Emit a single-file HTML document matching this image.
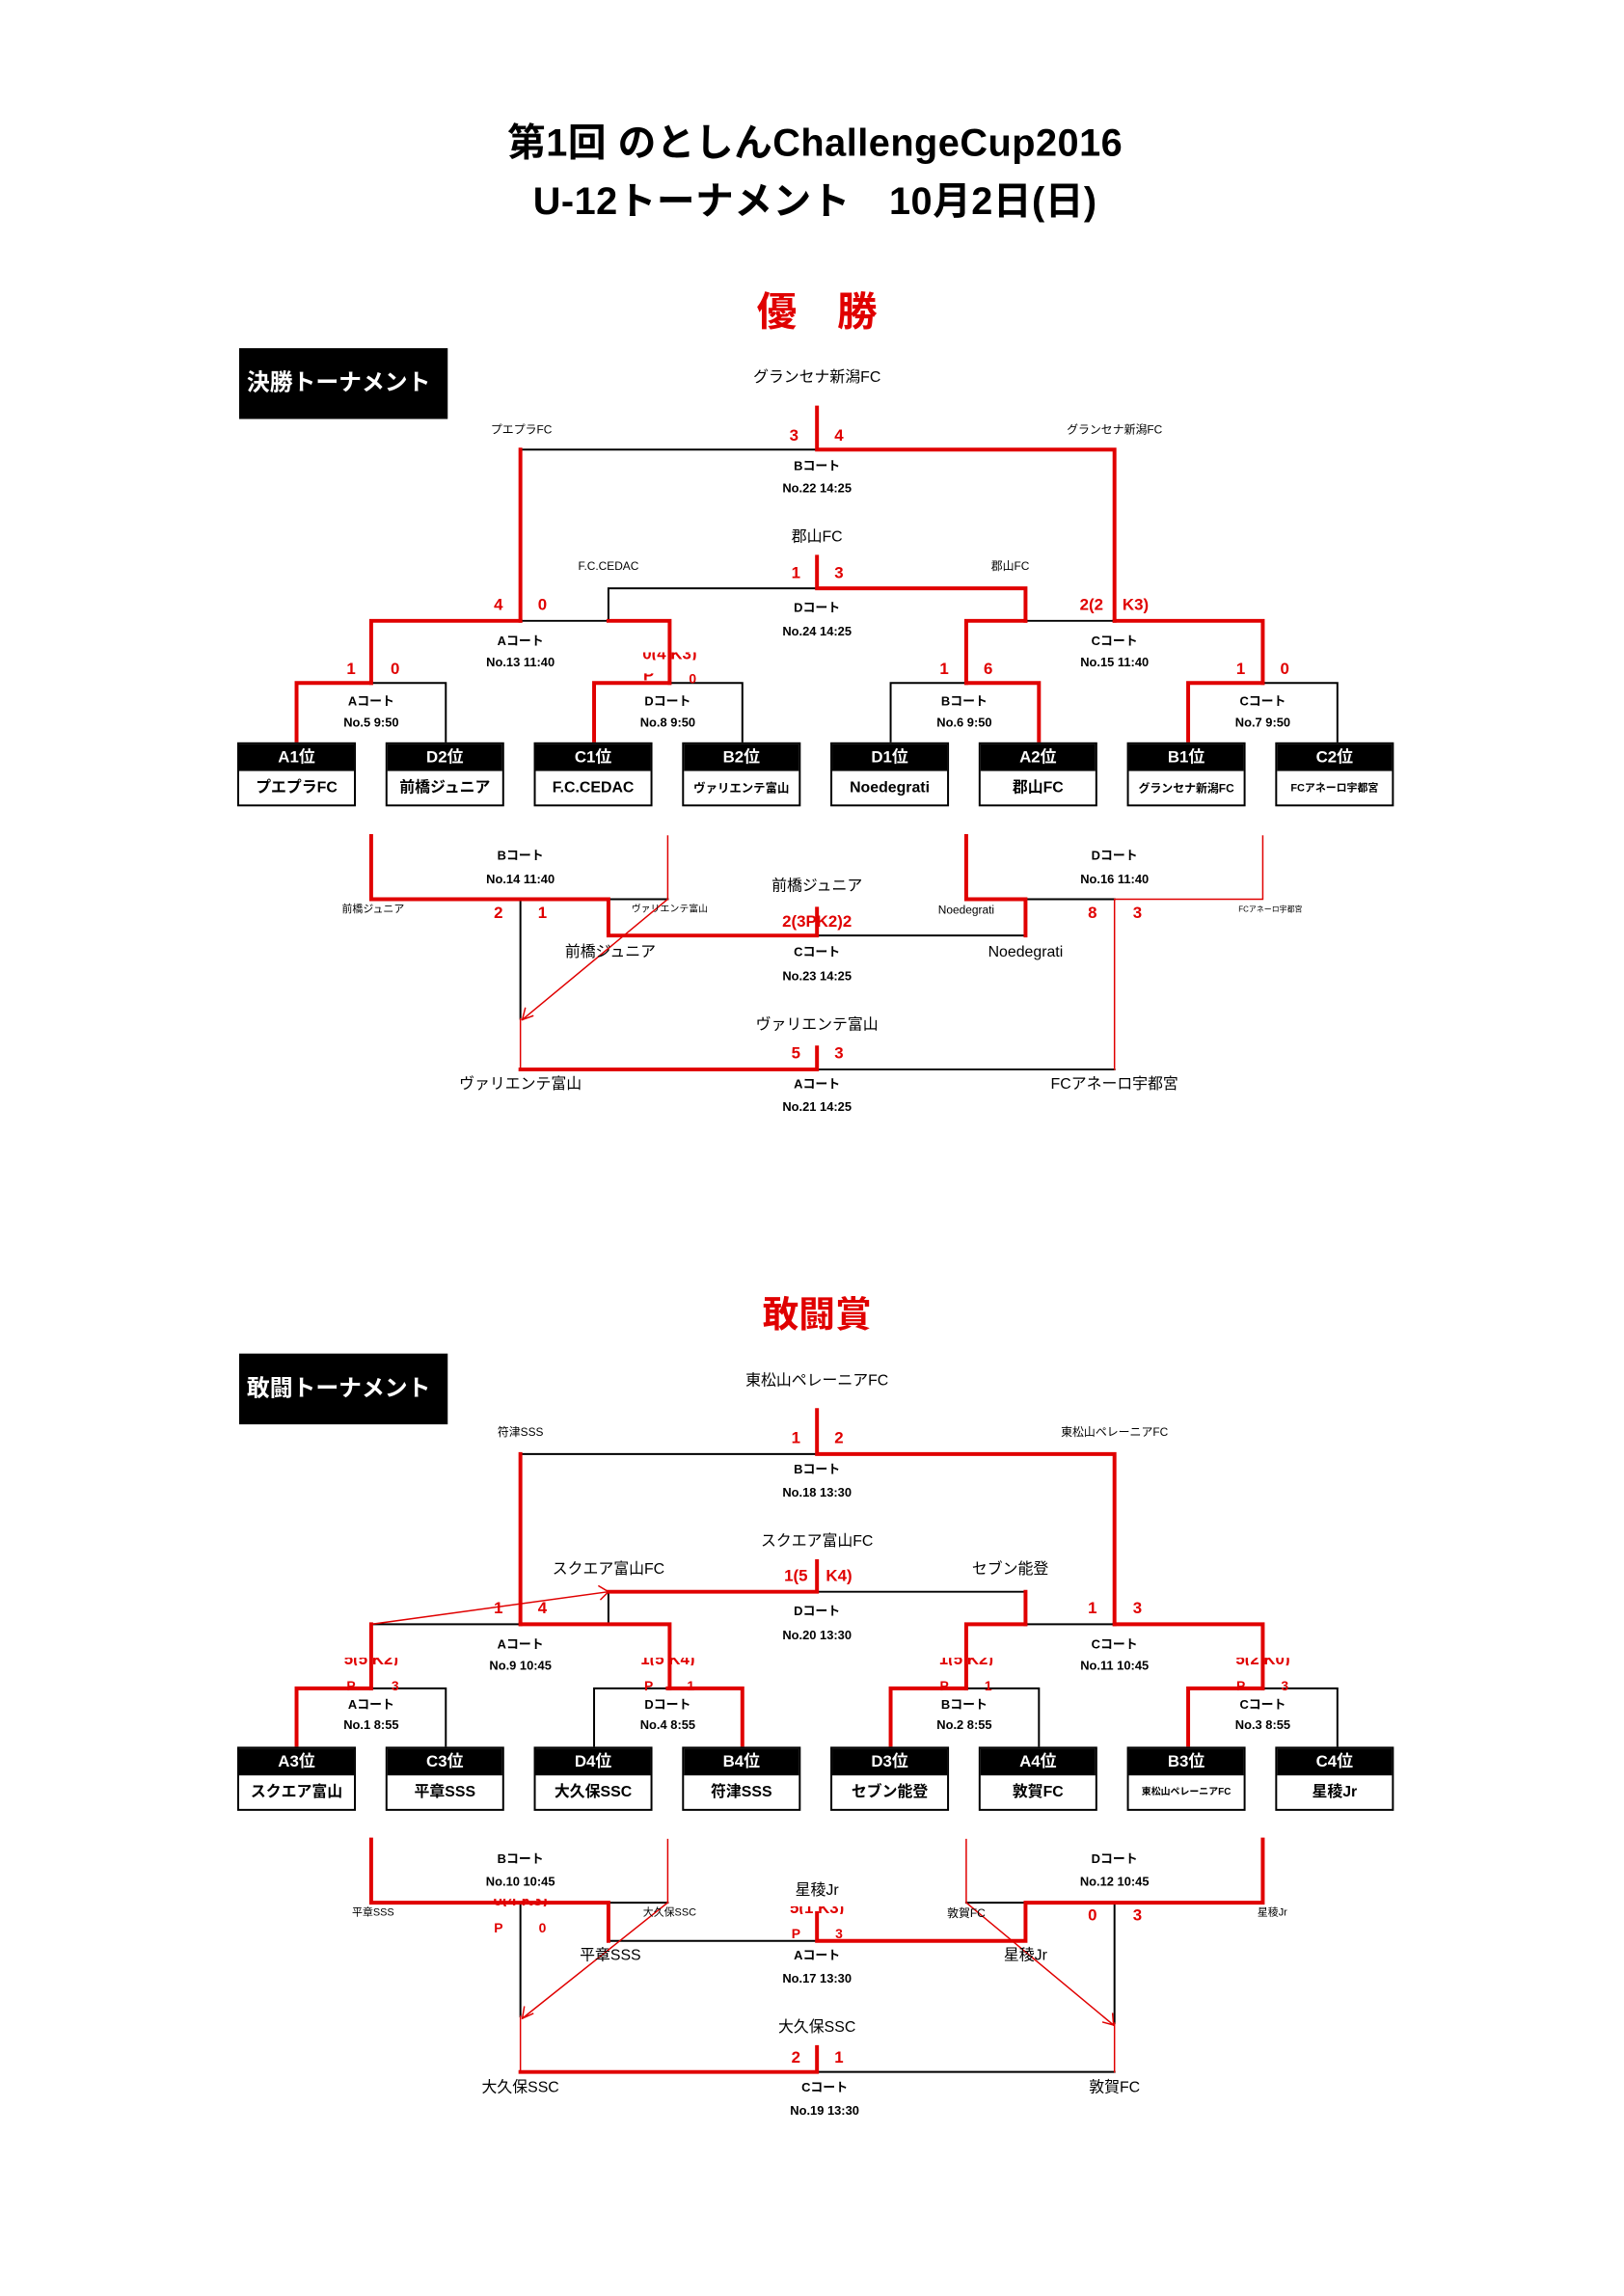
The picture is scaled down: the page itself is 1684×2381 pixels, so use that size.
<!DOCTYPE html>
<html><head><meta charset="utf-8">
<style>
*{margin:0;padding:0;box-sizing:border-box}
body{width:1684px;height:2381px;background:#fff;position:relative;overflow:hidden;font-family:"Liberation Sans","Noto Sans CJK JP",sans-serif;color:#000}
#w{position:absolute;left:0;top:0;width:1700px;height:2400px;transform:scale(0.992,0.992);transform-origin:0 0}
.t{position:absolute;transform:translate(-50%,-50%);white-space:nowrap;line-height:1}
.b{font-weight:bold}
.r{color:#e00000;font-weight:bold;font-size:17px}
.ct{font-size:13px;font-weight:bold}
.tm{font-size:16px}
.sm{font-size:12px}
.xs{font-size:9px}
.box{position:absolute;width:124px;height:67px;border:2px solid #000;background:#fff}
.box .h{height:28px;background:#000;color:#fff;font-weight:bold;font-size:17px;text-align:center;line-height:28px}
.box .n{height:37px;font-weight:bold;font-size:16px;text-align:center;line-height:36px;white-space:nowrap}
.lab{position:absolute;left:250px;width:218px;height:74px;background:#000;color:#fff;font-weight:bold;font-size:24px;line-height:74px;padding-left:8px;white-space:nowrap}
.clip{position:absolute;overflow:hidden;height:8px;width:80px;transform:translateX(-50%)}
.clip span{position:absolute;left:0;width:80px;text-align:center;bottom:-2px;color:#e00000;font-weight:bold;font-size:17px;line-height:1}
svg{position:absolute;left:0;top:0}
</style></head><body><div id="w">
<svg width="1700" height="2400">
<g fill="none" stroke-linecap="square">
<path d="M544 470H854" stroke="#000" stroke-width="2"/>
<path d="M854 426V470H1165V649M544 470V649" stroke="#e00000" stroke-width="4"/>
<path d="M854 615H636V649" stroke="#000" stroke-width="2"/>
<path d="M854 582V615H1072V649" stroke="#e00000" stroke-width="4"/>
<path d="M544 649H636" stroke="#000" stroke-width="2"/>
<path d="M388 714V649H544M636 649H700V714" stroke="#e00000" stroke-width="4"/>
<path d="M1072 649H1165" stroke="#000" stroke-width="2"/>
<path d="M1010 714V649H1072M1165 649H1320V714" stroke="#e00000" stroke-width="4"/>
<path d="M388 714H466V776M700 714H776V776M931 776V714H1010M1320 714H1398V776" stroke="#000" stroke-width="2"/>
<path d="M310 776V714H388M621 776V714H700M1010 714H1086V776M1242 776V714H1320" stroke="#e00000" stroke-width="4"/>
<path d="M636 940H698M854 978H1072M1072 940H1165M544 940V1065M854 1118H1165" stroke="#000" stroke-width="2"/>
<path d="M388 874V940H636V978H854M1010 874V940H1072V978M854 950V978M854 1095V1118H544" stroke="#e00000" stroke-width="4"/>
<path d="M698 874V940M1165 940H1320V874M1165 940V1118M544 1065V1118M698 940L546 1066M546 1066l3-12M546 1066l11-4" stroke="#e00000" stroke-width="1.5"/>

<path d="M544 1520H854" stroke="#000" stroke-width="2"/>
<path d="M854 1474V1520H1165V1698M544 1520V1698" stroke="#e00000" stroke-width="4"/>
<path d="M854 1664H1072V1698M636 1664V1698" stroke="#000" stroke-width="2"/>
<path d="M854 1632V1664H636M1072 1664V1698" stroke="#e00000" stroke-width="4"/>
<path d="M388 1698H544M1072 1698H1165" stroke="#000" stroke-width="2"/>
<path d="M388 1765V1698M544 1698H700V1765M1010 1765V1698H1072M1165 1698H1320V1765" stroke="#e00000" stroke-width="4"/>
<path d="M388 1765H466V1826M621 1826V1765H698M1010 1765H1086V1826M1320 1765H1398V1826" stroke="#000" stroke-width="2"/>
<path d="M310 1826V1765H388M698 1765H776V1826M931 1826V1765H1010M1242 1826V1765H1320" stroke="#e00000" stroke-width="4"/>
<path d="M388 1698L636 1664M636 1664l-10-6M636 1664l-8 8" stroke="#e00000" stroke-width="1.5"/>
<path d="M636 1989H698M636 2029H854M1010 1989H1072M544 1989V2108M1165 1989V2115M854 2166H1165" stroke="#000" stroke-width="2"/>
<path d="M388 1923V1989H636V2029M854 2000V2029H1072V1989H1320V1923M854 2140V2166H544" stroke="#e00000" stroke-width="4"/>
<path d="M698 1923V1989M1010 1923V1989M544 2108V2166M1165 2115V2166M698 1989L546 2110M546 2110l2-12M546 2110l11-5M1010 1989L1164 2117M1164 2117l-11-3M1164 2117l-1-12" stroke="#e00000" stroke-width="1.5"/>
</g>
</svg>

<div class="t b" style="left:852px;top:150px;font-size:40px;letter-spacing:0.5px">第1回 のとしんChallengeCup2016</div>
<div class="t b" style="left:852px;top:211px;font-size:40px;letter-spacing:0.5px">U-12トーナメント　10月2日(日)</div>
<div class="t b" style="left:854px;top:326px;font-size:42px;color:#e00000">優　勝</div>
<div class="lab" style="top:364px">決勝トーナメント</div>

<div class="t tm" style="left:854px;top:395px">グランセナ新潟FC</div>
<div class="t sm" style="left:545px;top:449px">プエプラFC</div>
<div class="t sm" style="left:1165px;top:449px">グランセナ新潟FC</div>
<div class="t r" style="left:830px;top:455px">3</div><div class="t r" style="left:877px;top:455px">4</div>
<div class="t ct" style="left:854px;top:487px">Bコート</div>
<div class="t ct" style="left:854px;top:510px">No.22 14:25</div>
<div class="t tm" style="left:854px;top:562px">郡山FC</div>
<div class="t sm" style="left:636px;top:592px">F.C.CEDAC</div>
<div class="t sm" style="left:1056px;top:592px">郡山FC</div>
<div class="t r" style="left:832px;top:599px">1</div><div class="t r" style="left:877px;top:599px">3</div>
<div class="t ct" style="left:854px;top:635px">Dコート</div>
<div class="t ct" style="left:854px;top:660px">No.24 14:25</div>
<div class="t r" style="left:521px;top:632px">4</div><div class="t r" style="left:567px;top:632px">0</div>
<div class="t r" style="left:1141px;top:632px">2(2</div><div class="t r" style="left:1187px;top:632px">K3)</div>
<div class="t ct" style="left:544px;top:670px">Aコート</div>
<div class="t ct" style="left:544px;top:692px">No.13 11:40</div>
<div class="t ct" style="left:1165px;top:670px">Cコート</div>
<div class="t ct" style="left:1165px;top:692px">No.15 11:40</div>
<div class="t r" style="left:367px;top:699px">1</div><div class="t r" style="left:413px;top:699px">0</div>
<div class="clip" style="left:700px;top:682px"><span>0(4 K3)</span></div>
<div class="clip" style="left:678px;top:704px;width:20px"><span style="width:20px">P</span></div>
<div class="t r" style="left:724px;top:709px;font-size:14px">0</div>
<div class="t r" style="left:987px;top:699px">1</div><div class="t r" style="left:1033px;top:699px">6</div>
<div class="t r" style="left:1297px;top:699px">1</div><div class="t r" style="left:1343px;top:699px">0</div>
<div class="t ct" style="left:388px;top:733px">Aコート</div><div class="t ct" style="left:388px;top:755px">No.5 9:50</div>
<div class="t ct" style="left:698px;top:733px">Dコート</div><div class="t ct" style="left:698px;top:755px">No.8 9:50</div>
<div class="t ct" style="left:1008px;top:733px">Bコート</div><div class="t ct" style="left:1008px;top:755px">No.6 9:50</div>
<div class="t ct" style="left:1320px;top:733px">Cコート</div><div class="t ct" style="left:1320px;top:755px">No.7 9:50</div>

<div class="box" style="left:248px;top:776px"><div class="h">A1位</div><div class="n">プエプラFC</div></div>
<div class="box" style="left:403px;top:776px"><div class="h">D2位</div><div class="n">前橋ジュニア</div></div>
<div class="box" style="left:558px;top:776px"><div class="h">C1位</div><div class="n">F.C.CEDAC</div></div>
<div class="box" style="left:713px;top:776px"><div class="h">B2位</div><div class="n" style="font-size:12.5px">ヴァリエンテ富山</div></div>
<div class="box" style="left:868px;top:776px"><div class="h">D1位</div><div class="n">Noedegrati</div></div>
<div class="box" style="left:1023px;top:776px"><div class="h">A2位</div><div class="n">郡山FC</div></div>
<div class="box" style="left:1178px;top:776px"><div class="h">B1位</div><div class="n" style="font-size:12px">グランセナ新潟FC</div></div>
<div class="box" style="left:1333px;top:776px"><div class="h">C2位</div><div class="n" style="font-size:11px">FCアネーロ宇都宮</div></div>

<div class="t ct" style="left:544px;top:894px">Bコート</div><div class="t ct" style="left:544px;top:919px">No.14 11:40</div>
<div class="t ct" style="left:1165px;top:894px">Dコート</div><div class="t ct" style="left:1165px;top:919px">No.16 11:40</div>
<div class="t tm" style="left:854px;top:927px">前橋ジュニア</div>
<div class="t sm" style="left:390px;top:951px;font-size:11px">前橋ジュニア</div>
<div class="t r" style="left:521px;top:954px">2</div><div class="t r" style="left:567px;top:954px">1</div>
<div class="t xs" style="left:700px;top:951px;font-size:10px">ヴァリエンテ富山</div>
<div class="t r" style="left:854px;top:963px">2(3PK2)2</div>
<div class="t sm" style="left:1010px;top:951px">Noedegrati</div>
<div class="t r" style="left:1142px;top:954px">8</div><div class="t r" style="left:1189px;top:954px">3</div>
<div class="t xs" style="left:1328px;top:951px;font-size:8px">FCアネーロ宇都宮</div>
<div class="t tm" style="left:638px;top:996px">前橋ジュニア</div>
<div class="t ct" style="left:854px;top:995px">Cコート</div><div class="t ct" style="left:854px;top:1020px">No.23 14:25</div>
<div class="t tm" style="left:1072px;top:996px">Noedegrati</div>
<div class="t tm" style="left:854px;top:1072px">ヴァリエンテ富山</div>
<div class="t r" style="left:832px;top:1101px">5</div><div class="t r" style="left:877px;top:1101px">3</div>
<div class="t tm" style="left:544px;top:1134px">ヴァリエンテ富山</div>
<div class="t ct" style="left:854px;top:1133px">Aコート</div><div class="t ct" style="left:854px;top:1157px">No.21 14:25</div>
<div class="t tm" style="left:1165px;top:1134px">FCアネーロ宇都宮</div>

<div class="t b" style="left:854px;top:1375px;font-size:38px;color:#e00000">敢闘賞</div>
<div class="lab" style="top:1415px">敢闘トーナメント</div>
<div class="t tm" style="left:854px;top:1444px">東松山ペレーニアFC</div>
<div class="t sm" style="left:544px;top:1497px">符津SSS</div>
<div class="t sm" style="left:1165px;top:1497px">東松山ペレーニアFC</div>
<div class="t r" style="left:832px;top:1503px">1</div><div class="t r" style="left:877px;top:1503px">2</div>
<div class="t ct" style="left:854px;top:1536px">Bコート</div><div class="t ct" style="left:854px;top:1560px">No.18 13:30</div>
<div class="t tm" style="left:854px;top:1612px">スクエア富山FC</div>
<div class="t tm" style="left:636px;top:1641px">スクエア富山FC</div>
<div class="t tm" style="left:1056px;top:1641px">セブン能登</div>
<div class="t r" style="left:832px;top:1647px">1(5</div><div class="t r" style="left:877px;top:1647px">K4)</div>
<div class="t ct" style="left:854px;top:1684px">Dコート</div><div class="t ct" style="left:854px;top:1709px">No.20 13:30</div>
<div class="t r" style="left:521px;top:1681px">1</div><div class="t r" style="left:567px;top:1681px">4</div>
<div class="t r" style="left:1142px;top:1681px">1</div><div class="t r" style="left:1189px;top:1681px">3</div>
<div class="t ct" style="left:544px;top:1719px">Aコート</div><div class="t ct" style="left:544px;top:1741px">No.9 10:45</div>
<div class="t ct" style="left:1165px;top:1719px">Cコート</div><div class="t ct" style="left:1165px;top:1741px">No.11 10:45</div>
<div class="clip" style="left:388px;top:1733px"><span>5(5 K2)</span></div>
<div class="clip" style="left:698px;top:1733px"><span>1(5 K4)</span></div>
<div class="clip" style="left:1010px;top:1733px"><span>1(5 K2)</span></div>
<div class="clip" style="left:1320px;top:1733px"><span>5(2 K0)</span></div>
<div class="t r" style="left:367px;top:1762px;font-size:14px">P</div><div class="t r" style="left:413px;top:1762px;font-size:14px">3</div>
<div class="t r" style="left:678px;top:1762px;font-size:14px">P</div><div class="t r" style="left:722px;top:1762px;font-size:14px">1</div>
<div class="t r" style="left:987px;top:1762px;font-size:14px">P</div><div class="t r" style="left:1033px;top:1762px;font-size:14px">1</div>
<div class="t r" style="left:1297px;top:1762px;font-size:14px">P</div><div class="t r" style="left:1343px;top:1762px;font-size:14px">3</div>
<div class="t ct" style="left:388px;top:1782px">Aコート</div><div class="t ct" style="left:388px;top:1803px">No.1 8:55</div>
<div class="t ct" style="left:698px;top:1782px">Dコート</div><div class="t ct" style="left:698px;top:1803px">No.4 8:55</div>
<div class="t ct" style="left:1008px;top:1782px">Bコート</div><div class="t ct" style="left:1008px;top:1803px">No.2 8:55</div>
<div class="t ct" style="left:1320px;top:1782px">Cコート</div><div class="t ct" style="left:1320px;top:1803px">No.3 8:55</div>

<div class="box" style="left:248px;top:1826px"><div class="h">A3位</div><div class="n">スクエア富山</div></div>
<div class="box" style="left:403px;top:1826px"><div class="h">C3位</div><div class="n">平章SSS</div></div>
<div class="box" style="left:558px;top:1826px"><div class="h">D4位</div><div class="n">大久保SSC</div></div>
<div class="box" style="left:713px;top:1826px"><div class="h">B4位</div><div class="n">符津SSS</div></div>
<div class="box" style="left:868px;top:1826px"><div class="h">D3位</div><div class="n">セブン能登</div></div>
<div class="box" style="left:1023px;top:1826px"><div class="h">A4位</div><div class="n">敦賀FC</div></div>
<div class="box" style="left:1178px;top:1826px"><div class="h">B3位</div><div class="n" style="font-size:10px">東松山ペレーニアFC</div></div>
<div class="box" style="left:1333px;top:1826px"><div class="h">C4位</div><div class="n">星稜Jr</div></div>

<div class="t ct" style="left:544px;top:1943px">Bコート</div><div class="t ct" style="left:544px;top:1967px">No.10 10:45</div>
<div class="t ct" style="left:1165px;top:1943px">Dコート</div><div class="t ct" style="left:1165px;top:1967px">No.12 10:45</div>
<div class="t tm" style="left:854px;top:1977px">星稜Jr</div>
<div class="t sm" style="left:390px;top:2000px;font-size:11px">平章SSS</div>
<div class="clip" style="left:544px;top:1985px"><span>0(4 K3)</span></div>
<div class="t r" style="left:521px;top:2015px;font-size:14px">P</div><div class="t r" style="left:567px;top:2015px;font-size:14px">0</div>
<div class="t sm" style="left:700px;top:2000px;font-size:11px">大久保SSC</div>
<div class="clip" style="left:854px;top:1993px"><span>5(1 K3)</span></div>
<div class="t r" style="left:832px;top:2021px;font-size:14px">P</div><div class="t r" style="left:877px;top:2021px;font-size:14px">3</div>
<div class="t sm" style="left:1010px;top:2000px">敦賀FC</div>
<div class="t r" style="left:1142px;top:2002px">0</div><div class="t r" style="left:1189px;top:2002px">3</div>
<div class="t sm" style="left:1330px;top:2000px;font-size:11px">星稜Jr</div>
<div class="t tm" style="left:638px;top:2045px">平章SSS</div>
<div class="t ct" style="left:854px;top:2044px">Aコート</div><div class="t ct" style="left:854px;top:2068px">No.17 13:30</div>
<div class="t tm" style="left:1072px;top:2045px">星稜Jr</div>
<div class="t tm" style="left:854px;top:2120px">大久保SSC</div>
<div class="t r" style="left:832px;top:2151px">2</div><div class="t r" style="left:877px;top:2151px">1</div>
<div class="t tm" style="left:544px;top:2183px">大久保SSC</div>
<div class="t ct" style="left:862px;top:2182px">Cコート</div><div class="t ct" style="left:862px;top:2206px">No.19 13:30</div>
<div class="t tm" style="left:1165px;top:2183px">敦賀FC</div>
</div></body></html>
